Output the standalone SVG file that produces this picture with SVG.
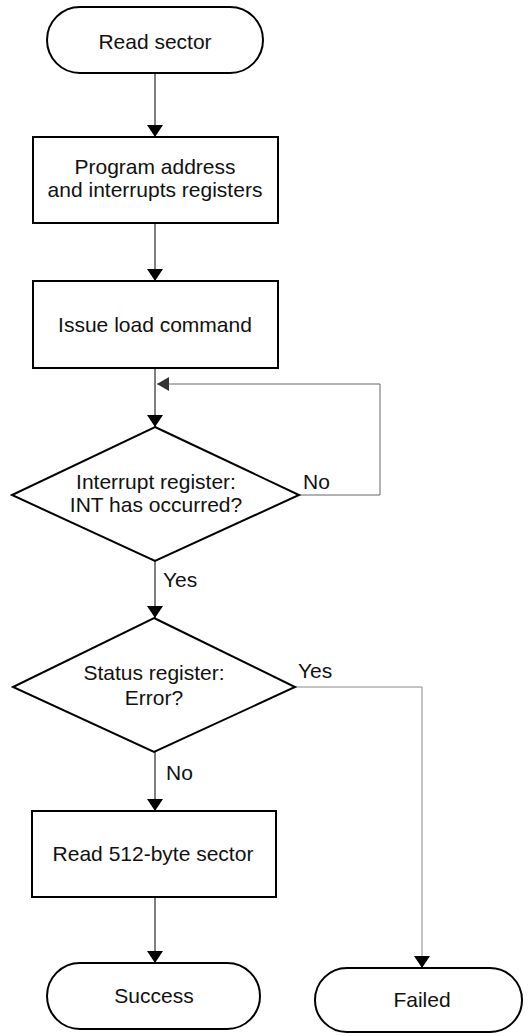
<svg xmlns="http://www.w3.org/2000/svg" width="528" height="1036" viewBox="0 0 528 1036">
<defs>
<style>
.t{font-family:"Liberation Sans",Arial,sans-serif;font-size:21px;fill:#111;text-anchor:middle}
.l{font-family:"Liberation Sans",Arial,sans-serif;font-size:21px;fill:#111}
.s{fill:#fff;stroke:#000;stroke-width:2}
.c{fill:none;stroke:#000;stroke-width:1}
.g{fill:none;stroke:#666;stroke-width:1}
.g2{fill:none;stroke:#888;stroke-width:1}
</style>
<marker id="a" viewBox="0 0 12 16" refX="12" refY="8" markerWidth="12" markerHeight="16" markerUnits="userSpaceOnUse" orient="auto"><path d="M0,0 L12,8 L0,16 z" fill="#000"/></marker>
<marker id="ag" viewBox="0 0 12 14" refX="12" refY="7" markerWidth="12" markerHeight="14" markerUnits="userSpaceOnUse" orient="auto"><path d="M0,0 L12,7 L0,14 z" fill="#333"/></marker>
</defs>
<rect width="528" height="1036" fill="#fff"/>
<g id="connectors">
<line class="c" x1="155" y1="73" x2="155" y2="137" marker-end="url(#a)"/>
<line class="c" x1="155" y1="223" x2="155" y2="281" marker-end="url(#a)"/>
<line class="c" x1="155" y1="368" x2="155" y2="427" marker-end="url(#a)"/>
<polyline class="g" points="299,495 380,495 380,384 157,384" marker-end="url(#ag)"/>
<line class="c" x1="155" y1="561" x2="155" y2="618" marker-end="url(#a)"/>
<line class="c" x1="155" y1="752" x2="155" y2="811" marker-end="url(#a)"/>
<polyline class="g2" points="295,687 422,687 422,968" marker-end="url(#a)"/>
<line class="c" x1="155" y1="897" x2="155" y2="963" marker-end="url(#a)"/>
<text class="l" x="303" y="489">No</text>
<text class="l" x="163" y="587">Yes</text>
<text class="l" x="298" y="678">Yes</text>
<text class="l" x="166" y="780">No</text>
</g>
<g id="start">
<rect class="s" x="47" y="7" width="216" height="66" rx="33"/>
<text class="t" x="155" y="49">Read sector</text>
</g>
<g id="program">
<rect class="s" x="33" y="137" width="245" height="86"/>
<text class="t" x="155" y="174">Program address</text>
<text class="t" x="155" y="197">and interrupts registers</text>
</g>
<g id="issue">
<rect class="s" x="33" y="281" width="245" height="87"/>
<text class="t" x="155" y="332">Issue load command</text>
</g>
<g id="interrupt">
<polygon class="s" points="155,427 299,495 155,561 12,495"/>
<text class="t" x="156" y="489">Interrupt register:</text>
<text class="t" x="156" y="512">INT has occurred?</text>
</g>
<g id="status">
<polygon class="s" points="154,618 295,687 154,752 13,687"/>
<text class="t" x="154" y="680">Status register:</text>
<text class="t" x="154" y="705">Error?</text>
</g>
<g id="read">
<rect class="s" x="32" y="811" width="244" height="86"/>
<text class="t" x="153" y="861">Read 512-byte sector</text>
</g>
<g id="success">
<rect class="s" x="47" y="963" width="213" height="66" rx="33"/>
<text class="t" x="154" y="1003">Success</text>
</g>
<g id="failed">
<rect class="s" x="315" y="968" width="207" height="64" rx="32"/>
<text class="t" x="422" y="1007">Failed</text>
</g>
</svg>
